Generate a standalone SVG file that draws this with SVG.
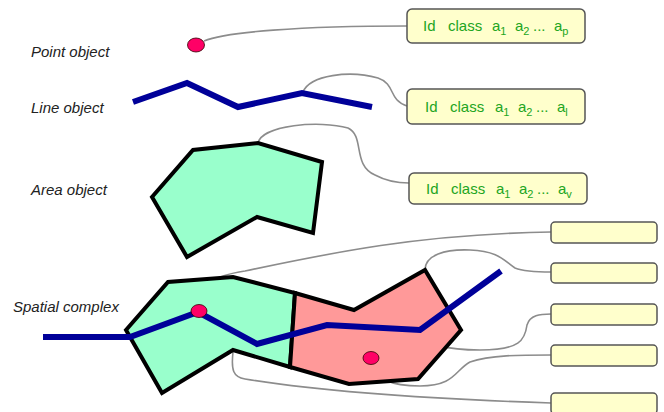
<svg xmlns="http://www.w3.org/2000/svg" width="664" height="412" viewBox="0 0 664 412">
<style>
.lbl{font-family:"Liberation Sans",Arial,sans-serif;font-size:15px;font-style:italic;fill:#222}
.box{fill:#ffffcc;stroke:#555;stroke-width:1.5}
.bt{font-family:"Liberation Sans",Arial,sans-serif;font-size:15px;fill:#22a522}
.sub{font-size:11px}
.con{fill:none;stroke:#8c8c8c;stroke-width:1.6}
.line{fill:none;stroke:#000099;stroke-width:6;stroke-linejoin:miter}
.pt{fill:#ff0066;stroke:#330000;stroke-width:0.8}
.green{fill:#99ffcc;stroke:#000;stroke-width:4;stroke-linejoin:miter}
.pink{fill:#ff9999;stroke:#000;stroke-width:4;stroke-linejoin:miter}
</style>
<rect width="664" height="412" fill="#fff"/>
<g id="labels">
<text class="lbl" x="31" y="57">Point object</text>
<text class="lbl" x="31" y="113">Line object</text>
<text class="lbl" x="31" y="195">Area object</text>
<text class="lbl" x="13" y="312">Spatial complex</text>
</g>
<g id="connectors">
<path class="con" d="M204,41 C225,32 300,26 407,26"/>
<path class="con" d="M303,92 C310,75 350,70 378,78 C396,84 388,100 407,106"/>
<path class="con" d="M258,143 C262,125 320,120 348,128 C365,136 352,165 375,175 C388,182 398,183 409,183"/>
<path class="con" d="M198,305 C200,285 212,276 245,271 C330,253 420,234 551,232"/>
<path class="con" d="M425,270 C425,255 445,249 470,250 C500,251 505,262 515,268 C525,272 540,272 551,272"/>
<path class="con" d="M420,330 C422,345 450,350 480,350 C520,350 525,340 527,325 C530,315 540,314 551,314"/>
<path class="con" d="M371,364 C375,380 395,386 420,386 C455,386 455,370 470,362 C490,355 520,355 551,355"/>
<path class="con" d="M233,352 C231,370 233,377 245,379 C300,388 400,398 551,403"/>
</g>
<g id="point-object">
<ellipse class="pt" cx="196" cy="45" rx="8.5" ry="7"/>
</g>
<g id="line-object">
<polyline class="line" points="133,102 187,83 238,107 302,93 372,107"/>
</g>
<g id="area-object">
<polygon class="green" points="152,197 193,150 258,143 322,162 313,233 257,217 187,257"/>
</g>
<g id="spatial-complex">
<polygon class="green" points="126,330 168,282 233,277 295,293 290,367 233,350 162,393"/>
<polygon class="pink" points="295,293 354,310 425,270 461,330 418,379 349,384 290,367"/>
<polyline class="line" points="43,337 130,337 198,312 257,344 327,325 420,330 501,271"/>
<ellipse class="pt" cx="199" cy="311" rx="8" ry="6.5"/>
<ellipse class="pt" cx="371" cy="358" rx="8" ry="6.5"/>
</g>
<g id="box-point">
<rect class="box" x="407" y="9" width="178" height="34" rx="5"/>
<text class="bt" y="31"><tspan x="423">Id</tspan><tspan x="448">class</tspan><tspan x="492">a</tspan><tspan class="sub" dy="4">1</tspan><tspan x="515" dy="-4">a</tspan><tspan class="sub" dy="4">2</tspan><tspan x="533" dy="-4">...</tspan><tspan x="554">a</tspan><tspan class="sub" dy="4">p</tspan></text>
</g>
<g id="box-line">
<rect class="box" x="407" y="89" width="178" height="35" rx="5"/>
<text class="bt" y="112"><tspan x="425">Id</tspan><tspan x="450">class</tspan><tspan x="495">a</tspan><tspan class="sub" dy="4">1</tspan><tspan x="518" dy="-4">a</tspan><tspan class="sub" dy="4">2</tspan><tspan x="536" dy="-4">...</tspan><tspan x="557">a</tspan><tspan class="sub" dy="4">l</tspan></text>
</g>
<g id="box-area">
<rect class="box" x="409" y="173" width="178" height="31" rx="5"/>
<text class="bt" y="194"><tspan x="426">Id</tspan><tspan x="451">class</tspan><tspan x="496">a</tspan><tspan class="sub" dy="4">1</tspan><tspan x="519" dy="-4">a</tspan><tspan class="sub" dy="4">2</tspan><tspan x="537" dy="-4">...</tspan><tspan x="558">a</tspan><tspan class="sub" dy="4">v</tspan></text>
</g>
<g id="box-c1"><rect class="box" x="551" y="222" width="106" height="21" rx="4"/></g>
<g id="box-c2"><rect class="box" x="551" y="263" width="106" height="20" rx="4"/></g>
<g id="box-c3"><rect class="box" x="551" y="304" width="106" height="21" rx="4"/></g>
<g id="box-c4"><rect class="box" x="551" y="345" width="106" height="21" rx="4"/></g>
<g id="box-c5"><rect class="box" x="551" y="393" width="106" height="21" rx="4"/></g>
</svg>
